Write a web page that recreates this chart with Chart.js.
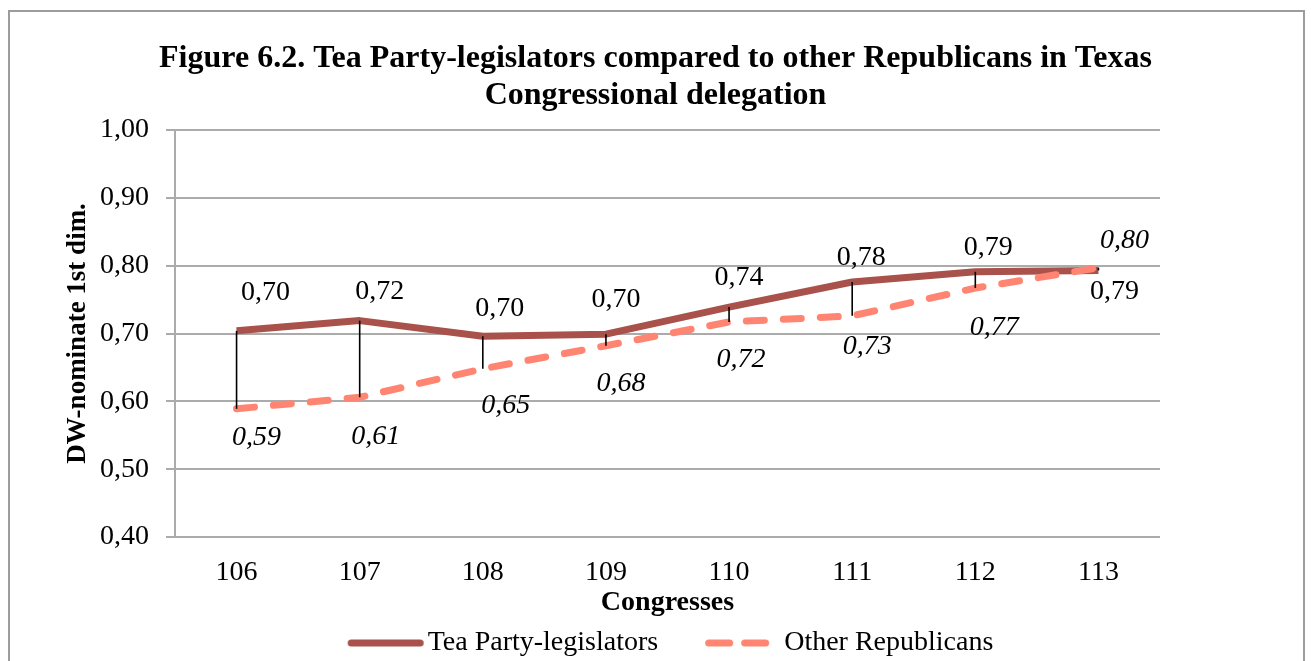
<!DOCTYPE html>
<html>
<head>
<meta charset="utf-8">
<title>Tea Party-legislators compared to other Republicans</title>
<script src="https://cdn.jsdelivr.net/npm/chart.js@4.4.1/dist/chart.umd.min.js"></script>
<style>
  html, body { margin: 0; padding: 0; background: #ffffff; overflow: hidden; }
  #wrap { position: relative; width: 1311px; height: 661px; }
</style>
</head>
<body>
<div id="wrap"><canvas id="chart"></canvas></div>
<script>
// Congresses on the category axis
const categories = ['106', '107', '108', '109', '110', '111', '112', '113'];

// Mean DW-nominate (1st dimension) per congress
const teaPartyValues = [0.704, 0.719, 0.696, 0.699, 0.739, 0.776, 0.791, 0.793];
const otherRepublicanValues = [0.589, 0.606, 0.648, 0.682, 0.717, 0.726, 0.767, 0.797];

// Value axis ticks
const yTickValues = [0.4, 0.5, 0.6, 0.7, 0.8, 0.9, 1.0];

const seriesNames = ['Tea Party-legislators', 'Other Republicans'];

// Where each value label sits relative to its point (dx, dy in px)
const teaLabelOffsets = [[29, -38], [20, -29], [17, -28], [10, -35], [10, -29], [9, -24], [13, -24], [16, 21]];
const otherLabelOffsets = [[20, 29], [16, 39], [23, 37], [15, 38], [12, 38], [15, 31], [19, 40], [26, -27]];

const FONT = "'Liberation Serif', 'Times New Roman', serif";
const TEA_COLOR = '#a9524b';
const OTHER_COLOR = '#ff8572';
const GRID_COLOR = '#ababab';

// decimal comma, two places
const fmt = v => (Math.round(v * 100) / 100).toFixed(2).replace('.', ',');

// Small line swatches for the legend (drawn into offscreen canvases)
function lineSwatch(color, dash, from, to) {
  const c = document.createElement('canvas');
  c.width = 100;
  c.height = 12;
  const g = c.getContext('2d');
  g.strokeStyle = color;
  g.lineWidth = 7;
  g.lineCap = 'round';
  g.setLineDash(dash);
  g.beginPath();
  g.moveTo(from, 6);
  g.lineTo(to, 6);
  g.stroke();
  return c;
}
const legendSwatches = [
  lineSwatch(TEA_COLOR, [], 20.5, 89.5),
  lineSwatch(OTHER_COLOR, [21, 15], 21.5, 78.5)
];

// White page with the grey frame round the whole figure
const framePlugin = {
  id: 'frame',
  beforeDraw(chart) {
    const ctx = chart.ctx;
    ctx.save();
    ctx.fillStyle = '#ffffff';
    ctx.fillRect(0, 0, chart.width, chart.height);
    ctx.strokeStyle = '#9c9c9c';
    ctx.lineWidth = 2;
    ctx.strokeRect(9, 11, 1295, 700);
    ctx.restore();
  }
};

// The legend row sits a little right of the page centre
const legendOffsetPlugin = {
  id: 'legendOffset',
  afterLayout(chart) {
    if (chart.legend) {
      chart.legend.left += 15;
      chart.legend.right += 15;
    }
  }
};

// Thin black high-low lines joining the two series at each congress
const dropLinePlugin = {
  id: 'dropLines',
  afterDatasetsDraw(chart) {
    const ctx = chart.ctx;
    const xs = chart.scales.x;
    const ys = chart.scales.y;
    ctx.save();
    ctx.strokeStyle = '#000000';
    ctx.lineWidth = 1.6;
    categories.forEach((c, i) => {
      const x = xs.getPixelForValue(i);
      ctx.beginPath();
      ctx.moveTo(x, ys.getPixelForValue(teaPartyValues[i]));
      ctx.lineTo(x, ys.getPixelForValue(otherRepublicanValues[i]));
      ctx.stroke();
    });
    ctx.restore();
  }
};

// Value labels: upright for the Tea Party series, italic for the others
const valueLabelPlugin = {
  id: 'valueLabels',
  afterDatasetsDraw(chart) {
    const ctx = chart.ctx;
    const styles = [
      { font: `28px ${FONT}`, offsets: teaLabelOffsets },
      { font: `italic 28px ${FONT}`, offsets: otherLabelOffsets }
    ];
    ctx.save();
    ctx.fillStyle = '#000000';
    ctx.textAlign = 'center';
    ctx.textBaseline = 'middle';
    chart.data.datasets.forEach((ds, di) => {
      const meta = chart.getDatasetMeta(di);
      const st = styles[di];
      ctx.font = st.font;
      meta.data.forEach((pt, i) => {
        ctx.fillText(fmt(ds.data[i]), pt.x + st.offsets[i][0], pt.y + st.offsets[i][1]);
      });
    });
    ctx.restore();
  }
};

new Chart(document.getElementById('chart'), {
  type: 'line',
  data: {
    labels: categories,
    datasets: [
      {
        label: seriesNames[0],
        data: teaPartyValues,
        borderColor: TEA_COLOR,
        backgroundColor: TEA_COLOR,
        borderWidth: 7,
        borderCapStyle: 'butt',
        borderJoinStyle: 'round',
        pointRadius: 0,
        pointHoverRadius: 0,
        tension: 0,
        order: 1,
        yAxisID: 'y'
      },
      {
        label: seriesNames[1],
        data: otherRepublicanValues,
        borderColor: OTHER_COLOR,
        backgroundColor: OTHER_COLOR,
        borderWidth: 7,
        borderDash: [18, 19],
        borderCapStyle: 'round',
        borderJoinStyle: 'round',
        pointRadius: 0,
        pointHoverRadius: 0,
        tension: 0,
        order: 0,
        yAxisID: 'y'
      }
    ]
  },
  options: {
    responsive: true,
    maintainAspectRatio: false,
    animation: false,
    devicePixelRatio: 1,
    events: [],
    layout: { padding: { left: 8, right: 8, top: 12, bottom: -6 } },
    plugins: {
      title: {
        display: true,
        text: ['Figure 6.2. Tea Party-legislators compared to other Republicans in Texas',
               'Congressional delegation'],
        color: '#000000',
        font: { family: FONT, size: 32, weight: 'bold', lineHeight: 37 / 32 },
        padding: { top: 28.5, bottom: 15.5 }
      },
      legend: {
        position: 'bottom',
        labels: {
          usePointStyle: true,
          pointStyleWidth: 66,
          color: '#000000',
          font: { family: FONT, size: 28 },
          padding: 46,
          generateLabels(chart) {
            return chart.data.datasets.map((ds, i) => ({
              text: ds.label,
              datasetIndex: i,
              pointStyle: legendSwatches[i],
              fillStyle: ds.borderColor,
              strokeStyle: ds.borderColor,
              lineWidth: 0,
              hidden: false
            }));
          }
        }
      },
      tooltip: { enabled: false }
    },
    scales: {
      x: {
        type: 'category',
        offset: true,
        grid: { display: false, drawTicks: false },
        border: { display: false },
        ticks: { color: '#000000', font: { family: FONT, size: 28 }, padding: 19 },
        title: {
          display: true,
          text: 'Congresses',
          color: '#000000',
          font: { family: FONT, size: 28, weight: 'bold' },
          padding: { top: 0, bottom: -36.8 }
        },
        afterFit(scale) { scale.height = 46; }
      },
      y: {
        type: 'linear',
        position: 'left',
        min: 0.4,
        max: 1.0,
        afterBuildTicks(scale) { scale.ticks = yTickValues.map(v => ({ value: v })); },
        grid: { color: GRID_COLOR, lineWidth: 2, tickLength: 9, drawTicks: true },
        border: { display: true, color: GRID_COLOR, width: 2 },
        ticks: {
          color: '#000000',
          font: { family: FONT, size: 28 },
          padding: 17,
          callback: v => fmt(v)
        },
        title: {
          display: true,
          text: 'DW-nominate 1st dim.',
          color: '#000000',
          font: { family: FONT, size: 27, weight: 'bold' },
          padding: { top: 53.8, bottom: 0 }
        },
        afterFit(scale) { scale.width = 167; }
      },
      // empty right-hand gutter between the plot and the frame
      gutter: {
        type: 'linear',
        position: 'right',
        display: true,
        grid: { display: false, drawTicks: false },
        border: { display: false },
        ticks: { display: false },
        afterFit(scale) { scale.width = 143; }
      }
    }
  },
  plugins: [framePlugin, legendOffsetPlugin, dropLinePlugin, valueLabelPlugin]
});
</script>
</body>
</html>
